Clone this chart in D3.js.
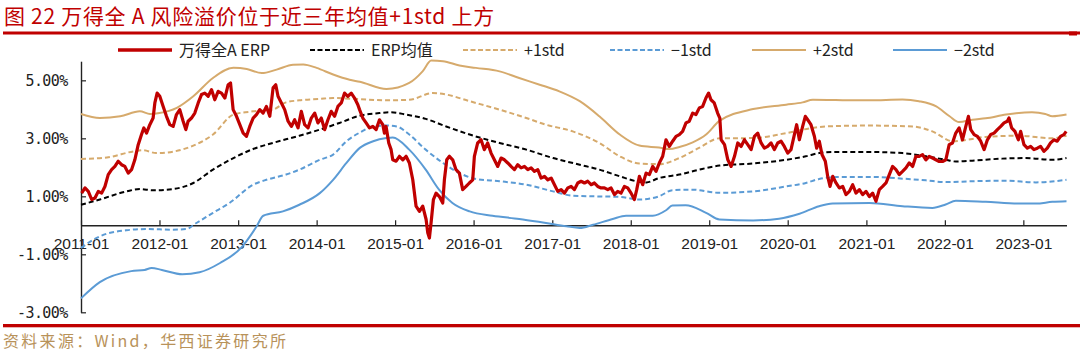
<!DOCTYPE html>
<html><head><meta charset="utf-8">
<script src="https://cdn.jsdelivr.net/npm/d3@7"></script>
<style>body{margin:0;background:#fff}svg{display:block}</style>
</head><body><svg id="c" width="1080" height="355"></svg>
<script>
// ---------- data (time in decimal years, values in %) ----------
const titleText = "图 22 万得全 A 风险溢价位于近三年均值+1std 上方";
const sourceText = "资料来源：Wind，华西证券研究所";
const seriesNames = ["万得全A ERP", "ERP均值", "+1std", "−1std", "+2std", "−2std"];
const yTickValues = [-3, -1, 1, 3, 5];
const xTickYears = [2011,2012,2013,2014,2015,2016,2017,2018,2019,2020,2021,2022,2023];

const erpT = [2011.008,2011.051,2011.093,2011.136,2011.178,2011.220,2011.263,2011.305,2011.347,2011.390,2011.432,2011.475,2011.517,2011.559,2011.602,2011.644,2011.686,2011.729,2011.771,2011.801,2011.835,2011.877,2011.919,2011.941,2011.970,2012.004,2012.047,2012.089,2012.131,2012.174,2012.216,2012.258,2012.301,2012.335,2012.364,2012.407,2012.449,2012.492,2012.534,2012.576,2012.619,2012.661,2012.703,2012.746,2012.788,2012.831,2012.873,2012.903,2012.936,2012.979,2013.021,2013.064,2013.106,2013.148,2013.191,2013.233,2013.275,2013.318,2013.360,2013.403,2013.445,2013.479,2013.508,2013.551,2013.593,2013.636,2013.678,2013.720,2013.763,2013.805,2013.847,2013.890,2013.932,2013.975,2014.017,2014.059,2014.102,2014.144,2014.186,2014.229,2014.271,2014.314,2014.356,2014.398,2014.441,2014.483,2014.525,2014.547,
2014.588,2014.631,2014.673,2014.716,2014.758,2014.801,2014.843,2014.864,2014.885,2014.919,2014.949,2014.970,2015.013,2015.055,2015.098,2015.140,2015.182,2015.225,2015.267,2015.310,2015.352,2015.395,2015.416,2015.437,2015.458,2015.488,2015.522,2015.564,2015.607,2015.628,2015.658,2015.692,2015.734,2015.776,2015.819,2015.861,2015.904,2015.946,2015.989,2016.010,2016.052,2016.095,2016.137,2016.179,2016.222,2016.264,2016.307,2016.349,2016.392,2016.434,2016.476,2016.519,2016.561,2016.604,2016.646,2016.689,2016.731,2016.773,2016.816,2016.858,2016.901,2016.943,2016.986,2017.028,2017.070,2017.113,2017.155,2017.198,2017.240,2017.282,2017.325,2017.367,2017.410,2017.452,2017.495,2017.537,2017.579,2017.622,2017.664,2017.707,2017.749,2017.792,2017.834,2017.876,2017.919,2017.961,2018.004,2018.046,2018.076,2018.110,2018.152,2018.195,2018.237,2018.280,2018.322,2018.364,2018.407,2018.449,2018.492,2018.534,2018.577,2018.619,2018.661,2018.704,2018.746,2018.789,2018.831,2018.874,2018.916,2018.958,2018.992,2019.022,2019.064,2019.107,2019.135,
2019.152,2019.195,2019.237,2019.279,2019.322,2019.364,2019.406,2019.449,2019.491,2019.534,2019.576,2019.618,2019.661,2019.703,2019.745,2019.788,2019.830,2019.873,2019.915,2019.957,2020.000,2020.042,2020.085,2020.114,2020.148,2020.190,2020.224,2020.254,2020.296,2020.339,2020.368,2020.402,2020.436,2020.478,2020.508,2020.538,2020.572,2020.614,2020.656,2020.699,2020.741,2020.784,2020.826,2020.868,2020.911,2020.953,2020.995,2021.038,2021.080,2021.122,2021.165,2021.207,2021.250,2021.292,2021.334,2021.377,2021.419,2021.461,2021.504,2021.546,2021.589,2021.631,2021.673,2021.716,2021.758,2021.800,2021.843,2021.885,2021.928,2021.970,2022.012,2022.055,2022.097,2022.139,2022.182,2022.224,2022.267,2022.300,2022.330,2022.373,2022.415,2022.457,2022.500,2022.542,2022.584,2022.627,2022.669,2022.712,2022.754,2022.796,2022.817,2022.851,2022.893,2022.936,2022.966,2023.008,2023.051,2023.093,2023.135,2023.178,2023.220,2023.262,2023.305,2023.347,2023.389,2023.432,2023.474,2023.517,2023.546];
const erpV = [1.11,1.29,1.17,0.89,0.94,1.17,1.11,1.34,1.75,1.92,2.03,2.21,2.09,2.03,1.80,1.92,2.26,2.78,3.13,3.36,3.18,3.47,3.70,4.22,4.56,4.45,4.10,3.76,3.47,3.41,3.82,3.99,3.59,3.30,3.59,3.70,3.87,4.22,4.51,4.56,4.45,4.68,4.33,4.62,4.56,4.39,4.85,4.91,3.99,3.76,3.47,3.18,3.07,3.41,3.70,3.82,3.99,3.87,4.10,3.76,4.74,4.85,4.45,4.22,3.99,3.59,3.41,3.64,3.36,3.93,3.47,3.36,3.70,3.87,3.53,3.70,3.30,3.64,3.93,3.76,4.10,4.22,4.56,4.45,4.56,4.39,4.16,3.99,
3.70,3.53,3.36,3.41,3.30,3.64,3.47,3.18,3.41,2.84,2.61,2.26,2.21,2.38,2.26,2.38,2.15,1.57,0.66,0.48,0.66,0.20,-0.26,-0.44,0.08,0.89,1.11,0.99,0.77,1.57,2.26,2.38,2.26,1.92,1.80,1.23,1.34,1.46,1.57,2.38,2.84,2.95,2.61,2.84,2.49,2.26,2.03,2.32,2.26,2.15,2.03,1.92,2.09,1.98,2.03,1.92,1.98,1.86,1.92,1.63,1.69,1.57,1.63,1.40,1.17,1.23,1.11,1.29,1.34,1.23,1.46,1.52,1.46,1.52,1.40,1.46,1.34,1.29,1.29,1.23,1.29,1.06,1.17,1.11,1.34,1.29,1.11,0.89,1.23,1.69,1.40,1.80,1.75,2.03,1.86,2.15,2.38,2.95,2.72,2.90,3.07,3.13,3.24,3.53,3.59,3.87,3.82,4.05,4.10,4.39,4.56,4.33,4.22,3.87,3.70,
2.95,2.78,2.26,2.03,2.38,2.84,2.72,2.95,2.78,2.61,3.07,3.18,2.84,2.66,2.72,2.84,2.61,2.84,2.90,2.72,2.49,2.61,3.13,3.47,2.95,3.41,3.76,3.64,3.47,3.07,2.66,2.90,2.44,2.21,1.69,1.34,1.69,1.46,1.29,1.34,1.06,1.17,1.40,1.11,1.23,1.06,1.17,0.99,1.11,0.83,1.23,1.34,1.46,1.75,2.03,1.92,1.75,1.86,1.98,2.15,2.03,2.38,2.38,2.44,2.26,2.38,2.32,2.26,2.20,2.20,2.26,2.78,2.84,3.18,3.36,2.95,3.41,3.76,3.30,3.13,3.07,2.90,2.61,2.95,3.13,3.18,3.30,3.41,3.53,3.59,3.70,3.36,3.24,2.95,3.24,2.78,2.66,2.72,2.61,2.66,2.72,2.55,2.66,2.84,2.95,2.90,3.07,3.13,3.24];

const meanT = [2011.00,2011.24,2011.58,2011.75,2011.92,2012.17,2012.43,2012.68,2012.94,2013.19,2013.44,2013.78,2014.04,2014.29,2014.55,2014.80,2014.93,2015.14,2015.39,2015.65,2015.95,2016.33,2016.67,2017.01,2017.35,2017.60,2017.86,2018.07,2018.20,2018.36,2018.62,2018.87,2019.13,2019.55,2019.98,2020.23,2020.40,2020.61,2021.04,2021.46,2021.76,2022.01,2022.14,2022.35,2022.73,2023.03,2023.37,2023.55];
const meanV = [0.71,0.89,1.17,1.25,1.21,1.25,1.46,1.92,2.32,2.63,2.84,3.09,3.30,3.53,3.78,3.87,3.90,3.82,3.67,3.41,3.13,2.84,2.61,2.32,2.09,1.92,1.69,1.52,1.48,1.63,1.75,1.92,2.06,2.13,2.26,2.38,2.49,2.53,2.53,2.49,2.38,2.26,2.20,2.23,2.30,2.32,2.26,2.32];

const plus1T = [2011.00,2011.33,2011.67,2011.79,2011.96,2012.17,2012.43,2012.68,2012.94,2013.19,2013.44,2013.61,2013.78,2014.04,2014.21,2014.55,2014.89,2015.18,2015.48,2015.65,2015.95,2016.33,2016.67,2016.92,2017.26,2017.60,2017.86,2018.11,2018.36,2018.62,2018.87,2019.13,2019.56,2019.98,2020.32,2020.49,2021.04,2021.59,2021.84,2022.10,2022.35,2022.52,2022.94,2023.37,2023.55];
const plus1V = [2.29,2.34,2.55,2.59,2.49,2.54,2.75,3.13,3.82,3.93,3.99,4.24,4.31,4.36,4.39,4.35,4.31,4.33,4.56,4.51,4.28,3.99,3.70,3.47,3.24,2.84,2.38,2.13,2.11,2.32,2.67,3.00,3.01,3.18,3.36,3.41,3.44,3.41,3.24,2.90,2.98,3.05,3.09,3.00,3.09];

const minus1T = [2011.00,2011.24,2011.58,2011.83,2012.17,2012.34,2012.47,2012.68,2012.89,2013.19,2013.36,2013.61,2013.78,2014.04,2014.21,2014.38,2014.55,2014.72,2014.89,2015.02,2015.18,2015.39,2015.61,2015.82,2016.03,2016.33,2016.67,2017.01,2017.26,2017.52,2017.86,2018.11,2018.36,2018.53,2018.79,2019.13,2019.56,2019.98,2020.23,2020.40,2020.57,2021.04,2021.46,2021.76,2022.01,2022.35,2022.78,2023.16,2023.55];
const minus1V = [-0.78,-0.38,-0.17,-0.13,-0.15,-0.13,0.08,0.43,0.77,1.40,1.57,1.75,1.92,2.26,2.44,2.90,3.20,3.41,3.44,3.41,3.13,2.61,2.15,1.80,1.60,1.52,1.40,1.17,1.02,1.00,0.98,0.89,1.00,1.21,1.23,1.12,1.17,1.34,1.46,1.60,1.66,1.67,1.61,1.55,1.49,1.52,1.54,1.48,1.57];

const plus2T = [2011.00,2011.24,2011.50,2011.75,2011.88,2012.00,2012.22,2012.43,2012.68,2012.94,2013.11,2013.30,2013.49,2013.70,2013.83,2014.00,2014.21,2014.42,2014.55,2014.89,2015.18,2015.35,2015.46,2015.61,2015.82,2016.03,2016.33,2016.58,2016.84,2017.09,2017.35,2017.60,2017.86,2018.11,2018.36,2018.49,2018.62,2018.79,2018.96,2019.13,2019.56,2019.98,2020.19,2020.32,2020.61,2021.04,2021.46,2021.67,2021.89,2022.06,2022.18,2022.35,2022.52,2022.78,2023.11,2023.28,2023.37,2023.55];
const plus2V = [3.84,3.70,3.76,3.93,3.84,3.87,4.05,4.45,5.08,5.43,5.39,5.25,5.37,5.54,5.55,5.43,5.20,5.02,4.95,4.70,4.91,5.31,5.68,5.66,5.51,5.43,5.31,5.08,4.85,4.62,4.28,3.76,3.13,2.75,2.68,2.63,2.70,2.86,3.13,3.60,4.01,4.16,4.24,4.33,4.32,4.31,4.34,4.28,4.10,3.76,3.56,3.64,3.69,3.82,3.90,3.84,3.76,3.82];

const minus2T = [2011.00,2011.24,2011.64,2011.81,2011.90,2012.03,2012.29,2012.51,2012.77,2013.04,2013.23,2013.32,2013.57,2013.78,2014.04,2014.21,2014.38,2014.55,2014.72,2014.89,2014.97,2015.18,2015.39,2015.56,2015.73,2015.95,2016.24,2016.58,2016.92,2017.18,2017.35,2017.52,2017.77,2017.94,2018.28,2018.45,2018.53,2018.70,2018.96,2019.13,2019.56,2019.89,2020.15,2020.40,2020.57,2021.04,2021.46,2021.84,2022.01,2022.14,2022.52,2022.94,2023.16,2023.37,2023.55];
const minus2V = [-2.52,-1.96,-1.58,-1.54,-1.47,-1.54,-1.69,-1.62,-1.30,-0.77,-0.06,0.33,0.48,0.71,1.11,1.57,2.15,2.67,2.90,3.01,3.03,2.61,1.92,1.23,0.77,0.48,0.33,0.22,0.08,-0.03,-0.09,0.02,0.22,0.33,0.33,0.52,0.68,0.69,0.43,0.20,0.17,0.23,0.40,0.66,0.75,0.77,0.66,0.60,0.72,0.85,0.81,0.75,0.75,0.81,0.83];

// ---------- drawing ----------
const RED = "#c00000", TAN = "#d6aa6c", BLUE = "#5b9bd5", BLACK = "#000";
const CJK = "'Noto Sans CJK SC','Noto Sans',sans-serif";
const svg = d3.select("#c");

function toDate(t){ const y = Math.floor(t), f = t - y; const a = Date.UTC(y,0,1), b = Date.UTC(y+1,0,1); return new Date(a + f*(b-a)); }

const x = d3.scaleUtc().domain([toDate(2011.0), toDate(2023.55)]).range([81, 1066.5]);
const y = d3.scaleLinear().domain([-3, 5.66]).range([312.3, 61.2]);

// title
svg.append("text").attr("x", 4).attr("y", 23.5).attr("fill", RED)
  .style("font-family", CJK).style("font-size", "21px").style("letter-spacing", "0.7px").text(titleText);
svg.append("rect").attr("x", 3).attr("y", 31.5).attr("width", 1077).attr("height", 3).attr("fill", RED);
svg.append("rect").attr("x", 1069).attr("y", 31.5).attr("width", 8).attr("height", 4).attr("fill", RED);

// source
svg.append("rect").attr("x", 3).attr("y", 324).attr("width", 1077).attr("height", 3.3).attr("fill", RED);
svg.append("text").attr("x", 3).attr("y", 346.5).attr("fill", "#b8925a")
  .style("font-family", CJK).style("font-size", "16px").style("letter-spacing", "2.3px").text(sourceText);

// axes
const yAxis = d3.axisLeft(y).tickValues(yTickValues).tickSize(-5).tickSizeOuter(0).tickPadding(13.4)
  .tickFormat(d => d.toFixed(2) + "%");
const gy = svg.append("g").attr("transform", "translate(81,0)").call(yAxis);
gy.select(".domain").attr("stroke", "#222").attr("stroke-width", 1.4);
gy.selectAll(".tick line").attr("stroke", "#222").attr("stroke-width", 1.2);
gy.selectAll("text").attr("fill", "#222").style("font-family", "'DejaVu Sans Mono',monospace")
  .style("font-size", "15px").style("letter-spacing", "-0.6px");

const xAxis = d3.axisBottom(x).tickValues(xTickYears.map(v => toDate(v))).tickSize(-5).tickSizeOuter(0)
  .tickPadding(13).tickFormat(d3.utcFormat("%Y-%m"));
const gx = svg.append("g").attr("transform", `translate(0,${y(0)})`).call(xAxis);
gx.select(".domain").attr("stroke", "#222").attr("stroke-width", 1.4);
gx.selectAll(".tick line").attr("stroke", "#222").attr("stroke-width", 1.2);
gx.selectAll("text").attr("fill", "#222").style("font-family", "'Liberation Sans',Arial,sans-serif").style("font-size", "15.5px");

// lines
function mk(T, V){ return T.map((t,i) => ({d: toDate(t), v: V[i]})); }
const smooth = d3.line().x(p => x(p.d)).y(p => y(p.v)).curve(d3.curveMonotoneX);
const raw = d3.line().x(p => x(p.d)).y(p => y(p.v));
const series = [
  {data: mk(minus2T, minus2V), color: BLUE, dash: null, w: 2, gen: smooth},
  {data: mk(plus2T, plus2V), color: TAN, dash: null, w: 2, gen: smooth},
  {data: mk(minus1T, minus1V), color: BLUE, dash: "5,3", w: 2, gen: smooth},
  {data: mk(plus1T, plus1V), color: TAN, dash: "5,3", w: 2, gen: smooth},
  {data: mk(meanT, meanV), color: BLACK, dash: "5,3", w: 2, gen: smooth},
  {data: mk(erpT, erpV), color: RED, dash: null, w: 3.2, gen: raw}
];
svg.append("g").selectAll("path").data(series).join("path")
  .attr("d", s => s.gen(s.data)).attr("fill", "none")
  .attr("stroke", s => s.color).attr("stroke-width", s => s.w)
  .attr("stroke-dasharray", s => s.dash).attr("stroke-linejoin", "round");

// legend
const legendItems = [
  {name: seriesNames[0], color: RED, dash: null, w: 3.5, x0: 118},
  {name: seriesNames[1], color: BLACK, dash: "5,2.5", w: 2, x0: 310},
  {name: seriesNames[2], color: TAN, dash: "5,2.5", w: 2, x0: 463},
  {name: seriesNames[3], color: BLUE, dash: "5,2.5", w: 2, x0: 610},
  {name: seriesNames[4], color: TAN, dash: null, w: 2.2, x0: 752},
  {name: seriesNames[5], color: BLUE, dash: null, w: 2.2, x0: 893}
];
const lg = svg.append("g").selectAll("g").data(legendItems).join("g");
lg.append("line").attr("x1", d => d.x0).attr("x2", d => d.x0 + 54).attr("y1", 50).attr("y2", 50)
  .attr("stroke", d => d.color).attr("stroke-width", d => d.w).attr("stroke-dasharray", d => d.dash);
lg.append("text").attr("x", d => d.x0 + 61).attr("y", 55.8).attr("fill", "#222")
  .style("font-family", CJK).style("font-size", "16px").text(d => d.name);
</script></body></html>
